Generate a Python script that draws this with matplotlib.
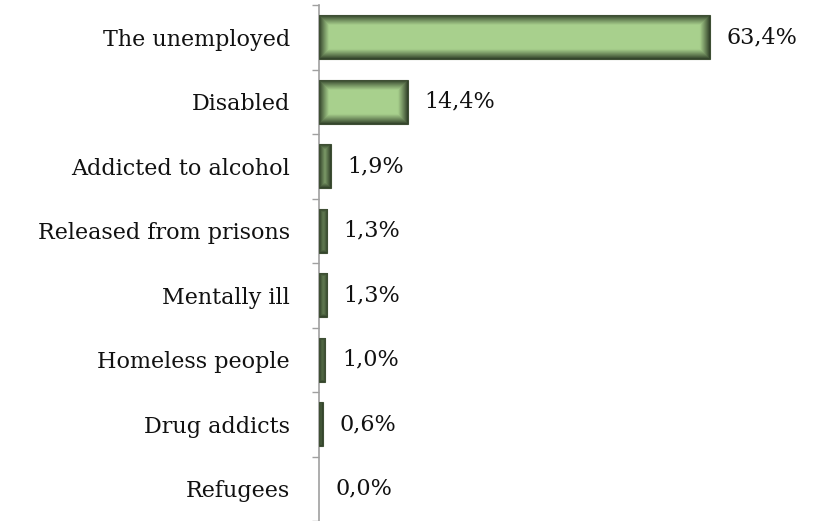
import numpy as np
import matplotlib
matplotlib.use("Agg")
import matplotlib.pyplot as plt
from matplotlib.colors import to_rgb

# Share of beneficiaries by group (%)
groups = ["The unemployed", "Disabled", "Addicted to alcohol",
          "Released from prisons", "Mentally ill", "Homeless people",
          "Drug addicts", "Refugees"]
shares = [63.4, 14.4, 1.9, 1.3, 1.3, 1.0, 0.6, 0.0]

W, H, DPI = 818, 521, 100
fig = plt.figure(figsize=(W / DPI, H / DPI), dpi=DPI)
ax = fig.add_axes([319 / W, 0.0, 1 - 319 / W, 1 - 5 / H])

n = len(groups)
ypos = np.arange(n)
bar_h = 0.68
xmax = 81.0

light = np.array(to_rgb("#a8d08d"))
dark = np.array(to_rgb("#2c3b25"))
px_per_x = (W - 319) / xmax
px_per_y = (H - 5) / n
fade = 10.0  # width of the darkened rim, in pixels

# bars with a shaded rim: dark at the border, light in the middle
for y, v in zip(ypos, shares):
    if v <= 0:
        continue
    wpx = max(int(round(v * px_per_x)), 1)
    hpx = int(round(bar_h * px_per_y))
    xs = np.arange(wpx) + 0.5
    ys = np.arange(hpx) + 0.5
    dx = np.minimum(xs, wpx - xs)
    dy = np.minimum(ys, hpx - ys)
    d = np.minimum(dx[None, :], dy[:, None])
    t = np.clip(d / fade, 0, 1) ** 0.9
    img = dark + (light - dark) * t[..., None]
    ax.imshow(img, extent=(0, v, y + bar_h / 2, y - bar_h / 2),
              aspect="auto", interpolation="bilinear", zorder=2)
    ax.add_patch(plt.Rectangle((0, y - bar_h / 2), v, bar_h, fill=False,
                               edgecolor="#3f4f35", linewidth=0.8, zorder=3))

for y, v in zip(ypos, shares):
    ax.annotate(f"{v:.1f}%".replace(".", ","), xy=(v, y), xytext=(12, 0),
                textcoords="offset points", va="center", ha="left",
                fontsize=16, family="DejaVu Serif", color="#111111")

ax.set_xlim(0, xmax)
ax.set_ylim(n - 0.5, -0.5)

# ticks between categories, labels at category centres
ax.set_yticks(np.arange(n + 1) - 0.5)
ax.set_yticklabels([])
ax.set_yticks(ypos, minor=True)
ax.set_yticklabels(groups, minor=True, fontsize=16, family="DejaVu Serif",
                   color="#111111")
ax.tick_params(axis="y", which="major", length=5, color="#a0a0a0", width=1)
ax.tick_params(axis="y", which="minor", length=0, pad=21)
ax.set_xticks([])
for s in ["top", "right", "bottom"]:
    ax.spines[s].set_visible(False)
ax.spines["left"].set_color("#a0a0a0")
ax.spines["left"].set_linewidth(1.2)

fig.savefig("out.png", dpi=DPI)
